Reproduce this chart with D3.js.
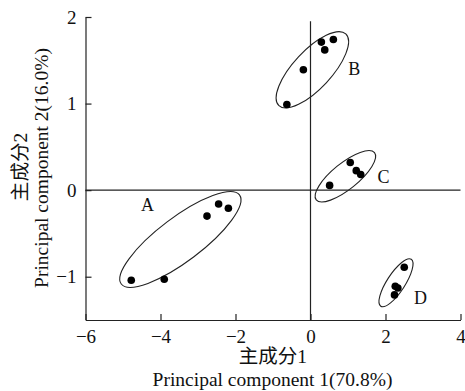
<!DOCTYPE html>
<html>
<head>
<meta charset="utf-8">
<script src="https://cdn.jsdelivr.net/npm/d3@7"></script>
<style>
  body { margin: 0; background: #fff; }
  svg text { font-family: "Liberation Serif", "Noto Sans CJK SC", serif; fill: #111; }
</style>
</head>
<body>
<div id="chart"></div>
<script>
// group scores (PC1, PC2)
const groupA = [[-4.78, -1.04], [-3.9, -1.03], [-2.76, -0.30], [-2.45, -0.16], [-2.19, -0.21]];
const groupB = [[-0.63, 0.99], [-0.19, 1.39], [0.29, 1.71], [0.38, 1.62], [0.61, 1.74]];
const groupC = [[0.51, 0.055], [1.06, 0.32], [1.22, 0.225], [1.34, 0.18]];
const groupD = [[2.50, -0.89], [2.26, -1.11], [2.33, -1.13], [2.24, -1.21]];
const groupNames = ["A", "B", "C", "D"];
const xTicks = [-6, -4, -2, 0, 2, 4];
const yTicks = [-1, 0, 1, 2];

// confidence ellipses: centre in data units, radii in px, tilt in degrees
const ellipses = [
  { cx: -3.47, cy: -0.57, rx: 74, ry: 22, angle: 37, label: [-4.35, -0.17] },
  { cx: 0.05, cy: 1.39, rx: 49, ry: 19, angle: 47, label: [1.17, 1.40] },
  { cx: 0.93, cy: 0.16, rx: 37.5, ry: 13, angle: 39, label: [1.95, 0.15] },
  { cx: 2.28, cy: -1.07, rx: 28, ry: 9, angle: 57, label: [2.93, -1.24] }
];

const groups = [groupA, groupB, groupC, groupD];

const width = 465, height = 391;
const svg = d3.select("#chart").append("svg")
  .attr("width", width)
  .attr("height", height);

const x = d3.scaleLinear().domain([-6, 4]).range([85.5, 460.5]);
const y = d3.scaleLinear().domain([-1.5, 2]).range([320, 17]);
const fmt = d3.format("d");

// axes
const xAxis = svg.append("g")
  .attr("transform", "translate(0," + y(-1.5) + ")")
  .call(d3.axisBottom(x).tickValues(xTicks).tickFormat(fmt).tickSizeInner(-6).tickSizeOuter(0).tickPadding(10));
const yAxis = svg.append("g")
  .attr("transform", "translate(" + x(-6) + ",0)")
  .call(d3.axisLeft(y).tickValues(yTicks).tickFormat(fmt).tickSizeInner(-6).tickSizeOuter(0).tickPadding(9));

[xAxis, yAxis].forEach(a => {
  a.selectAll("path, line").attr("stroke", "#222").attr("stroke-width", 1.2);
  a.selectAll("text").attr("font-size", 19).attr("font-family", "Liberation Serif").attr("fill", "#111");
});

// zero lines
svg.append("line")
  .attr("x1", x(-6)).attr("x2", x(4))
  .attr("y1", y(0)).attr("y2", y(0))
  .attr("stroke", "#222").attr("stroke-width", 1.2);
svg.append("line")
  .attr("x1", x(0)).attr("x2", x(0))
  .attr("y1", y(1.95)).attr("y2", y(-1.5))
  .attr("stroke", "#222").attr("stroke-width", 1.2);

// ellipses
svg.selectAll(".ell")
  .data(ellipses)
  .enter()
  .append("ellipse")
  .attr("cx", 0).attr("cy", 0)
  .attr("rx", d => d.rx).attr("ry", d => d.ry)
  .attr("transform", d => "translate(" + x(d.cx) + "," + y(d.cy) + ") rotate(" + (-d.angle) + ")")
  .attr("fill", "none")
  .attr("stroke", "#222")
  .attr("stroke-width", 1.1);

// points
groups.forEach(g => {
  svg.selectAll(null)
    .data(g)
    .enter()
    .append("circle")
    .attr("cx", d => x(d[0]))
    .attr("cy", d => y(d[1]))
    .attr("r", 3.8)
    .attr("fill", "#000");
});

// group labels
svg.selectAll(".glabel")
  .data(ellipses)
  .enter()
  .append("text")
  .attr("x", d => x(d.label[0]))
  .attr("y", d => y(d.label[1]))
  .attr("dy", "0.35em")
  .attr("text-anchor", "middle")
  .attr("font-size", 18)
  .text((d, i) => groupNames[i]);

// axis titles
svg.append("text")
  .attr("x", 273).attr("y", 363)
  .attr("text-anchor", "middle")
  .attr("font-size", 19.5)
  .text("主成分1");
svg.append("text")
  .attr("x", 272.5).attr("y", 386)
  .attr("text-anchor", "middle")
  .attr("font-size", 19.5)
  .text("Principal component 1(70.8%)");
svg.append("text")
  .attr("transform", "translate(27,167) rotate(-90)")
  .attr("text-anchor", "middle")
  .attr("font-size", 19.5)
  .text("主成分2");
svg.append("text")
  .attr("transform", "translate(48,168) rotate(-90)")
  .attr("text-anchor", "middle")
  .attr("font-size", 19.5)
  .text("Principal component 2(16.0%)");
</script>
</body>
</html>
